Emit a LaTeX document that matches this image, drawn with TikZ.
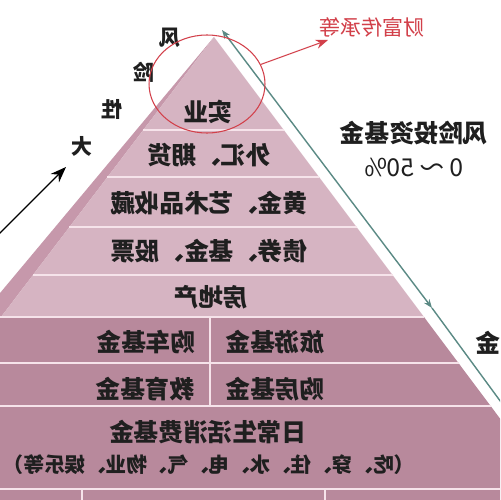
\documentclass[tikz,border=0pt]{standalone}
\usepackage{fontspec}
\newfontfamily\cjk{Noto Sans CJK SC}
\usetikzlibrary{shapes.geometric, arrows.meta, positioning}
\definecolor{faceup}{HTML}{D6B4C2}
\definecolor{faceside}{HTML}{C698AB}
\definecolor{facelow}{HTML}{B8899C}
\definecolor{sepline}{HTML}{F6E3EA}
\definecolor{dimline}{HTML}{5B8A85}
\definecolor{markred}{HTML}{D2404A}

\begin{document}
\begin{tikzpicture}[
    x=0.02cm, y=-0.02cm,
    node distance=5pt,
    tier/.style={xscale=-1, inner sep=1pt, text=black!88, font=\cjk\bfseries\fontsize{14}{16}\selectfont},
    tiernote/.style={tier, font=\cjk\bfseries\fontsize{11.7}{14}\selectfont},
    riskchar/.style={tier, font=\cjk\bfseries\fontsize{12}{14}\selectfont},
    divider/.style={draw=sepline, line width=1.3pt},
    arrow/.style={thick, -{Stealth[length=9pt]}}
]
    \useasboundingbox (0,0) rectangle (500,500);
    \clip (0,0) rectangle (500,500);
    \fill[white] (0,0) rectangle (500,500);

    % pyramid faces
    \coordinate (apex) at (214,37);
    \fill[facelow] (-5,317) -- (424,317) -- (561,500) -- (-5,500) -- cycle;
    \fill[faceside] (apex) -- (-20,317) -- (1,317) -- cycle;
    \fill[faceup] (apex) -- (1,317) -- (424,317) -- cycle;

    % layer lines
    \foreach \y in {130,177,227,275}
        \draw[divider] ({214-0.761*(\y-37)},\y) -- ({214+0.75*(\y-37)},\y);
    \draw[divider] (0,317) -- (424,317);
    \draw[divider] (0,363) -- (458.5,363);
    \draw[divider] (0,406) -- (490.8,406);
    \draw[divider] (0,489) -- (553,489);
    \draw[divider] (210,317) -- (210,406);
    \draw[divider] (82,489) -- (82,500);
    \draw[divider] (325,489) -- (325,500);

    % layer texts
    \node[tier] (shiye)    at (208,112) {实业};
    \node[tier] (waihui)   at (209,155) {外汇、期货};
    \node[tier] (huangjin) at (209,203) {黄金、艺术品收藏};
    \node[tier] (zhaiquan) at (209,251) {债券、基金、股票};
    \node[tier] (fangdi)   at (211,297) {房地产};
    \node[tier] (gouche)   at (146,342) {购车基金};
    \node[tier] (lvyou)    at (275,342) {旅游基金};
    \node[tier] (jiaoyu)   at (145,389) {教育基金};
    \node[tier] (goufang)  at (275,389) {购房基金};
    \node[tier] (richang)  at (208,432) {日常生活消费基金};
    \node[tiernote] (richangnote) at (209,465) {（吃、穿、住、水、电、气、物业、娱乐等）};

    % dimension line on the slope
    \coordinate (dimtop) at (222,30);
    \coordinate (dimmid) at (432,308);
    \coordinate (dimend) at (520,428);
    \draw[dimline, line width=0.8pt, {Stealth[length=5pt]}-{Stealth[length=5pt]}] (dimtop) -- (dimmid);
    \draw[dimline, line width=0.8pt] (dimmid) -- (dimend);

    % risk arrow
    \node[riskchar] (feng) at (170,38) {风};
    \node[riskchar] (xian) at (144,72) {险};
    \node[riskchar] (xing) at (112,109) {性};
    \node[riskchar] (da)   at (82,146) {大};
    \coordinate (riskfrom) at (-2,235);
    \coordinate (riskto) at (66,167);
    \draw[arrow] (riskfrom) -- (riskto);

    % top mark
    \node[ellipse, draw=markred, line width=0.6pt, minimum width=2.32cm, minimum height=1.96cm, inner sep=0pt] (wealthring) at (207,84) {};
    \node[tier, text=markred, font=\cjk\fontsize{12}{14}\selectfont] (wealth) at (372,27) {财富传承等};
    \coordinate (wealthtip) at (328,40);
    \draw[markred, line width=0.6pt, -{Stealth[length=7pt]}] (wealthring) -- (wealthtip);

    % right side texts
    \node[tier] (venture) at (414,133) {风险投资基金};
    \node[tier, font=\cjk\fontsize{14}{16}\selectfont, below=of venture] (ratio) {0 ～ 50\%};
    \node[tier] (jin) at (488,343) {金};
\end{tikzpicture}
\end{document}
